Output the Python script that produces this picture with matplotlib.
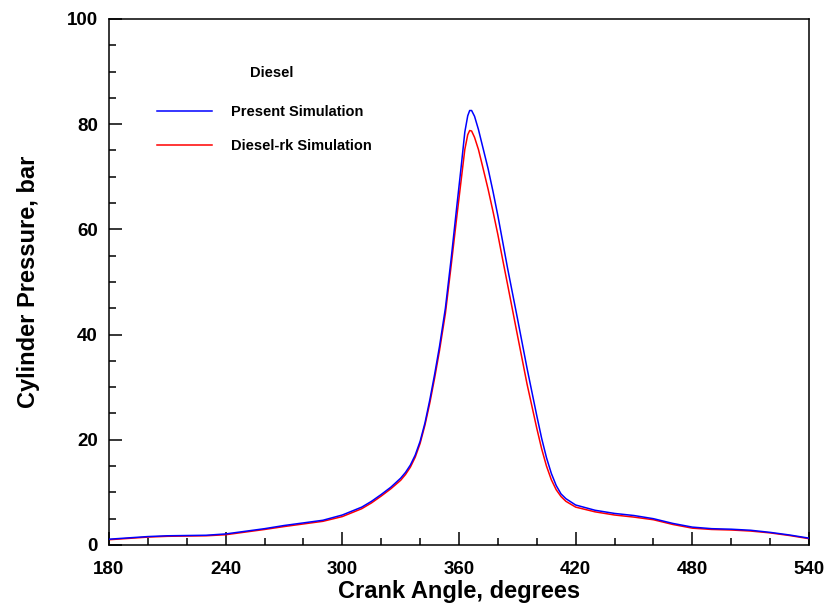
import matplotlib
matplotlib.use("Agg")
import matplotlib.pyplot as plt
from matplotlib.ticker import MultipleLocator

plt.rcParams['font.family'] = ['Liberation Sans', 'DejaVu Sans']
plt.rcParams['font.weight'] = 'bold'

# Crank angle (degrees) and cylinder pressure (bar)
crank_angle = [180, 190, 200, 210, 220, 230, 240, 250, 260, 270, 280, 290, 300,
               310, 315, 320, 325, 330, 332.5, 335, 337.5, 340, 342.5, 345, 347.5, 350,
               353, 356, 359, 361, 363, 364.5, 365.5, 366.5, 368, 370, 372, 375,
               377.5, 380, 382.5, 385, 390, 395, 400, 402.5, 405, 407.5, 410, 412.5,
               415, 420, 430, 440, 450, 460, 470, 480, 490, 500, 510, 520, 530, 540]

present_sim = [1.1, 1.35, 1.6, 1.75, 1.8, 1.85, 2.1, 2.6, 3.1, 3.7, 4.2, 4.7, 5.7,
               7.2, 8.3, 9.6, 11.0, 12.7, 13.8, 15.2, 17.1, 19.7, 23.2, 27.6, 32.5, 37.8,
               45.0, 54.5, 64.8, 71.5, 78.5, 81.6, 82.6, 82.6, 81.5, 79.0, 76.0, 71.5,
               67.2, 62.6, 57.6, 52.6, 43.2, 33.6, 24.6, 20.3, 16.6, 13.6, 11.3, 9.7,
               8.8, 7.6, 6.6, 6.0, 5.6, 5.0, 4.1, 3.4, 3.1, 3.0, 2.8, 2.4, 1.9, 1.3]

dieselrk_sim = [1.0, 1.25, 1.5, 1.65, 1.7, 1.75, 1.95, 2.45, 2.95, 3.5, 4.0, 4.5, 5.4,
                6.9, 8.0, 9.3, 10.7, 12.3, 13.4, 14.8, 16.7, 19.3, 22.8, 27.0, 31.8, 37.0,
                44.0, 53.2, 62.8, 69.0, 75.2, 78.0, 78.8, 78.7, 77.5, 75.2, 72.2, 67.6,
                63.4, 59.0, 54.2, 49.5, 40.0, 30.6, 22.2, 18.3, 15.0, 12.4, 10.5, 9.2,
                8.3, 7.2, 6.3, 5.7, 5.3, 4.8, 3.9, 3.2, 2.95, 2.85, 2.65, 2.3, 1.8, 1.2]

fig = plt.figure(figsize=(8.27, 6.05), dpi=100)
ax = fig.add_axes([0.1318, 0.0992, 0.8464, 0.8694])

ax.plot(crank_angle, present_sim, color='#0000ff', linewidth=1.1, label='Present Simulation', zorder=3)
ax.plot(crank_angle, dieselrk_sim, color='#ff0000', linewidth=1.1, label='Diesel-rk Simulation', zorder=2)

ax.set_xlim(180, 540)
ax.set_ylim(0, 100)
ax.xaxis.set_major_locator(MultipleLocator(60))
ax.xaxis.set_minor_locator(MultipleLocator(20))
ax.yaxis.set_major_locator(MultipleLocator(20))
ax.yaxis.set_minor_locator(MultipleLocator(5))

ax.tick_params(which='both', direction='in', top=False, right=False, width=1.1, labelsize=13.5)
ax.tick_params(which='major', length=9.5)
ax.tick_params(which='minor', length=5)
ax.tick_params(axis='x', which='major', pad=11.5)
ax.tick_params(axis='y', which='major', pad=8)
for s in ax.spines.values():
    s.set_linewidth(1.1)

ax.set_xlabel('Crank Angle, degrees', fontsize=17, fontweight='bold')
ax.set_ylabel('Cylinder Pressure, bar', fontsize=17, fontweight='bold')
ax.xaxis.set_label_coords(0.5, -0.066)
ax.yaxis.set_label_coords(-0.099, 0.5)

# legend heading
ax.text(0.233, 0.897, 'Diesel', transform=ax.transAxes, ha='center', va='center',
        fontsize=10.5, fontweight='bold')
ax.legend(loc='upper left', bbox_to_anchor=(0.0686, 0.837), frameon=False,
          fontsize=10.5, handlelength=3.8, handletextpad=1.3, labelspacing=1.4,
          borderpad=0, borderaxespad=0)

plt.savefig('out.png', dpi=100)
plt.close()
